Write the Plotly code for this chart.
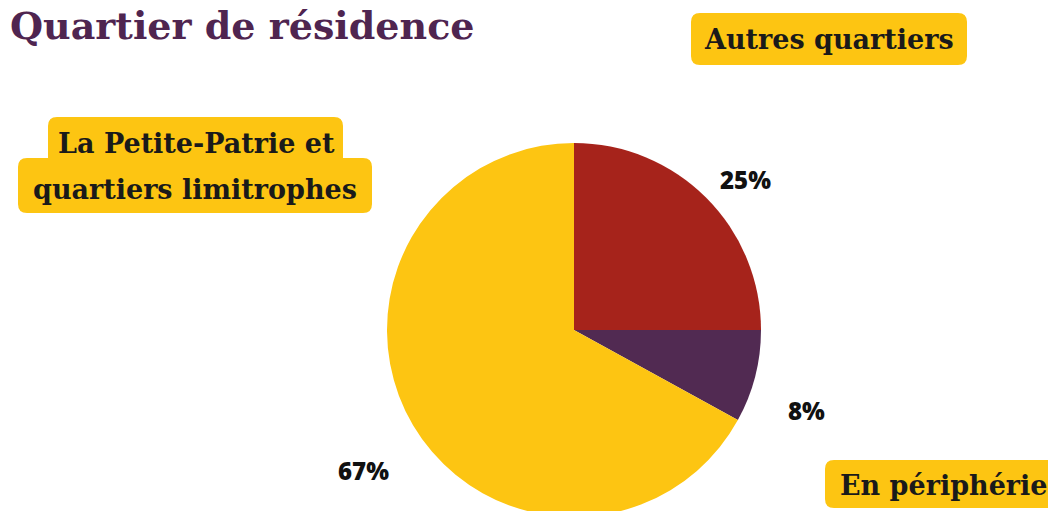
import plotly.graph_objects as go

# ---- data ----
categories = ["Autres quartiers", "En périphérie", "La Petite-Patrie et quartiers limitrophes"]
values = [25, 8, 67]
colors = ["#A6231B", "#512A52", "#FDC512"]
pct_labels = [f"{v}%" for v in values]

W, H = 1048, 530  # figure slightly taller than window: pie is clipped at bottom in reference

def px(x, y):
    return x / W, 1 - y / H

def rrect(x0, y0, x1, y1, r=9):
    # rounded rectangle path in paper coords from pixel box
    rx, ry = r / W, r / H
    X0, Y1 = px(x0, y0)
    X1, Y0 = px(x1, y1)
    return (f"M{X0+rx},{Y1} L{X1-rx},{Y1} Q{X1},{Y1} {X1},{Y1-ry} "
            f"L{X1},{Y0+ry} Q{X1},{Y0} {X1-rx},{Y0} L{X0+rx},{Y0} "
            f"Q{X0},{Y0} {X0},{Y0+ry} L{X0},{Y1-ry} Q{X0},{Y1} {X0+rx},{Y1} Z")

cx, cy, R = 574, 330, 187
fig = go.Figure(go.Pie(
    labels=categories, values=values, sort=False, direction="clockwise", rotation=0,
    marker=dict(colors=colors, line=dict(width=0)),
    textinfo="none", hoverinfo="label+percent", showlegend=False,
    domain=dict(x=[(cx - R) / W, (cx + R) / W], y=[1 - (cy + R) / H, 1 - (cy - R) / H]),
))

yellow = "#FDC512"
boxes = [(691, 13, 967, 65), (48, 117, 343, 170), (18, 158, 372, 213), (825, 460, 1070, 508)]
shapes = [dict(type="path", xref="paper", yref="paper", path=rrect(*b), fillcolor=yellow,
               line=dict(width=0), layer="below") for b in boxes]

serif = "DejaVu Serif"
lab_font = dict(family=serif, size=27, color="#1a1a1a", weight="bold")
pct_font = dict(family="Open Sans", size=24, color="#111111", weight=800)

annotations = [
    dict(text="Quartier de résidence", x=px(8, 0)[0], y=px(0, 26)[1], xanchor="left", yanchor="middle",
         font=dict(family=serif, size=38, color="#4F2550", weight="bold")),
    dict(text=categories[0], x=px(829, 0)[0], y=px(0, 40)[1], xanchor="center", yanchor="middle", font=lab_font),
    dict(text="La Petite-Patrie et", x=px(196, 0)[0], y=px(0, 143)[1], xanchor="center", yanchor="middle", font=lab_font),
    dict(text="quartiers limitrophes", x=px(195, 0)[0], y=px(0, 190)[1], xanchor="center", yanchor="middle", font=lab_font),
    dict(text=categories[1], x=px(838, 0)[0], y=px(0, 485)[1], xanchor="left", yanchor="middle", font=lab_font),
    dict(text=pct_labels[0], x=px(745, 0)[0], y=px(0, 180)[1], xanchor="center", yanchor="middle", font=pct_font),
    dict(text=pct_labels[1], x=px(806, 0)[0], y=px(0, 410)[1], xanchor="center", yanchor="middle", font=pct_font),
    dict(text=pct_labels[2], x=px(363, 0)[0], y=px(0, 470)[1], xanchor="center", yanchor="middle", font=pct_font),
]
for a in annotations:
    a.update(xref="paper", yref="paper", showarrow=False)

fig.update_layout(width=W, height=H, margin=dict(l=0, r=0, t=0, b=0),
                  paper_bgcolor="white", plot_bgcolor="white",
                  shapes=shapes, annotations=annotations)

fig.write_html("out.html", config={"displayModeBar": False},
               post_script="document.body.style.margin='0';document.body.style.overflow='hidden';document.documentElement.style.overflow='hidden';")
